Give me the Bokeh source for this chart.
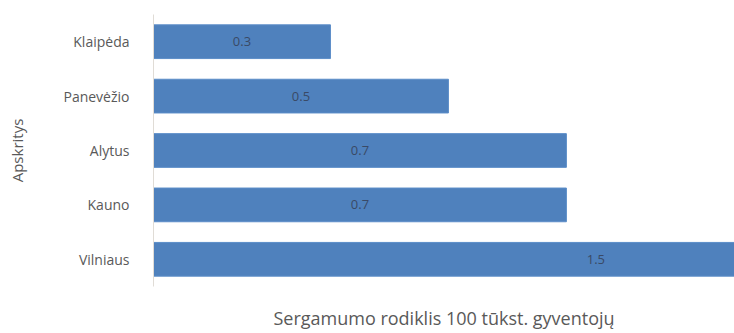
from bokeh.plotting import figure
from bokeh.models import ColumnDataSource, LabelSet, Range1d, FixedTicker
from bokeh.core.properties import value
from bokeh.embed import file_html
from bokeh.resources import INLINE

# Data (bottom to top as drawn)
categories = ["Vilniaus", "Kauno", "Alytus", "Panevėžio", "Klaipėda"]
values = [1.5, 0.7, 0.7, 0.5, 0.3]
value_labels = ["1.5", "0.7", "0.7", "0.5", "0.3"]
x_title = "Sergamumo rodiklis 100 tūkst. gyventojų"
y_title = "Apskritys"

FONT = "Open Sans"

source = ColumnDataSource(dict(
    cat=categories,
    val=values,
    mid=[v / 2 for v in values],
    lab=value_labels,
))

p = figure(
    width=734, height=333,
    y_range=categories,
    x_range=Range1d(0, 0.985),
    output_backend="svg",
    toolbar_location=None,
    min_border_left=153, min_border_right=0,
    min_border_top=14, min_border_bottom=47,
)
p.outline_line_color = None
p.xgrid.visible = False
p.ygrid.visible = False
p.background_fill_color = "white"
p.border_fill_color = "white"

p.hbar(y="cat", right="val", left=0, height=0.62, source=source,
       fill_color="#4F81BD", line_color="#5B8DC8", line_width=1)

labels = LabelSet(x="mid", y="cat", text="lab", source=source,
                  text_align="center", text_baseline="middle",
                  text_font=value(FONT), text_font_size="13px",
                  text_color="#3A4A66")
p.add_layout(labels)

# y axis
p.yaxis.axis_line_color = "#E0DCD6"
p.yaxis.major_tick_line_color = None
p.yaxis.minor_tick_line_color = None
p.yaxis.major_label_standoff = 18
p.yaxis.major_label_text_font = FONT
p.yaxis.major_label_text_font_size = "14px"
p.yaxis.major_label_text_color = "#595959"
p.yaxis.axis_label = y_title
p.yaxis.axis_label_text_font = FONT
p.yaxis.axis_label_text_font_size = "15px"
p.yaxis.axis_label_text_font_style = "normal"
p.yaxis.axis_label_text_color = "#595959"
p.yaxis.axis_label_standoff = 33

# x axis: only title
p.xaxis.ticker = FixedTicker(ticks=[])
p.xaxis.axis_line_color = None
p.xaxis.major_tick_line_color = None
p.xaxis.minor_tick_line_color = None
p.xaxis.major_tick_out = 0
p.xaxis.major_tick_in = 0
p.xaxis.major_label_standoff = 0
p.xaxis.axis_label = x_title
p.xaxis.axis_label_text_font = FONT
p.xaxis.axis_label_text_font_size = "18px"
p.xaxis.axis_label_text_font_style = "normal"
p.xaxis.axis_label_text_color = "#595959"
p.xaxis.axis_label_standoff = 19

open("out.html", "w").write(file_html(p, INLINE))
